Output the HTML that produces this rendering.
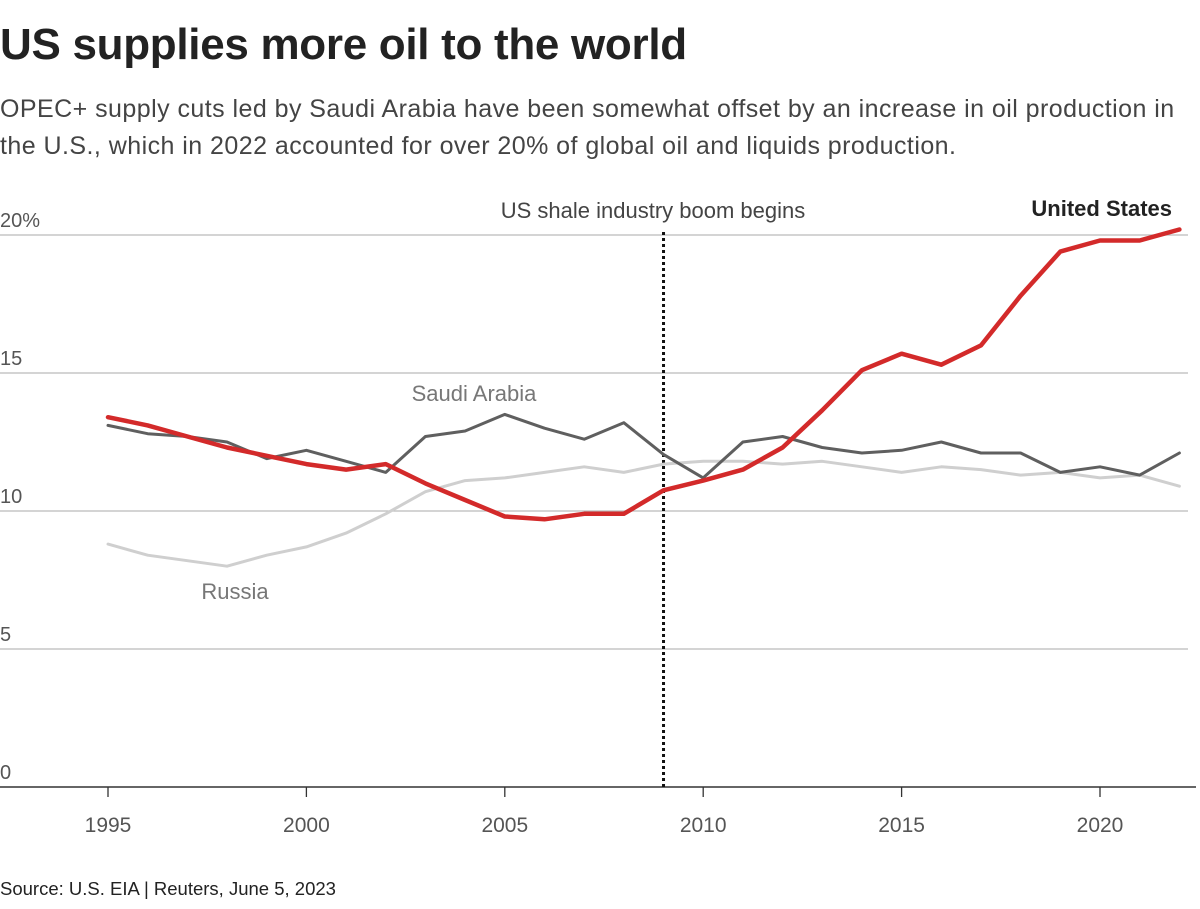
<!DOCTYPE html>
<html><head><meta charset="utf-8"><style>
body{margin:0;width:1200px;height:909px;background:#fff;font-family:"Liberation Sans",sans-serif;overflow:hidden;position:relative}
h1{position:absolute;left:0;top:20px;margin:0;font-size:44px;font-weight:bold;color:#222;letter-spacing:-0.3px}
p.sub{position:absolute;left:0;top:91px;margin:0;font-size:25px;letter-spacing:0.45px;line-height:37px;color:#444;width:1200px;white-space:nowrap}
.src{position:absolute;left:0;top:878px;font-size:18.5px;color:#222}
svg{position:absolute;left:0;top:0}
</style></head><body>
<h1>US supplies more oil to the world</h1>
<p class="sub">OPEC+ supply cuts led by Saudi Arabia have been somewhat offset by an increase in oil production in<br>the U.S., which in 2022 accounted for over 20% of global oil and liquids production.</p>
<svg id="c" width="1200" height="909"></svg>
<div class="src">Source: U.S. EIA | Reuters, June 5, 2023</div>
<script>
const years=[1995,1996,1997,1998,1999,2000,2001,2002,2003,2004,2005,2006,2007,2008,2009,2010,2011,2012,2013,2014,2015,2016,2017,2018,2019,2020,2021,2022];
const usValues=[13.4,13.1,12.7,12.3,12.0,11.7,11.5,11.7,11.0,10.4,9.8,9.7,9.9,9.9,10.75,11.1,11.5,12.3,13.65,15.1,15.7,15.3,16.0,17.8,19.4,19.8,19.8,20.2];
const saudiValues=[13.1,12.8,12.7,12.5,11.9,12.2,11.8,11.4,12.7,12.9,13.5,13.0,12.6,13.2,12.05,11.2,12.5,12.7,12.3,12.1,12.2,12.5,12.1,12.1,11.4,11.6,11.3,12.1];
const russiaValues=[8.8,8.4,8.2,8.0,8.4,8.7,9.2,9.9,10.7,11.1,11.2,11.4,11.6,11.4,11.7,11.8,11.8,11.7,11.8,11.6,11.4,11.6,11.5,11.3,11.4,11.2,11.3,10.9];
const yTicks=[0,5,10,15,20];
const yTickLabels=["0","5","10","15","20%"];
const xTicks=[1995,2000,2005,2010,2015,2020];
const svg=document.getElementById('c');const NS='http://www.w3.org/2000/svg';
const x=v=>108+(v-1995)*(1100-108)/25;
const y=v=>787-v*(787-235)/20;
function mk(t,a){const e=document.createElementNS(NS,t);for(const k in a)e.setAttribute(k,a[k]);svg.appendChild(e);return e;}
yTicks.forEach((t,i)=>{
 if(t>0){const g=mk('line',{x1:0,x2:1188,y1:y(t),y2:y(t),stroke:'#bbb','stroke-width':1.3});
 
 }
 const l=mk('text',{x:0,y:y(t)-8,'font-size':20,fill:'#555'});l.textContent=yTickLabels[i];
 
 
});
const ax=mk('line',{x1:0,x2:1196,y1:787,y2:787,stroke:'#333','stroke-width':1.5});


xTicks.forEach(t=>{
 const tk=mk('line',{x1:x(t),x2:x(t),y1:787,y2:797,stroke:'#333','stroke-width':1.3});
 
 
 const l=mk('text',{x:x(t),y:832,'font-size':21,fill:'#555','text-anchor':'middle'});l.textContent=t;
 
 
});
const vl=mk('line',{x1:x(2009),x2:x(2009),y1:232,y2:787,stroke:'#111','stroke-width':3,'stroke-dasharray':'3,3'});


const vt=mk('text',{x:653,y:218,'font-size':22,fill:'#444','text-anchor':'middle'});vt.textContent='US shale industry boom begins';


function line(vals,col,w,name){const d=vals.map((v,i)=>(i?'L':'M')+x(years[i]).toFixed(1)+','+y(v).toFixed(1)).join('');
 const p=mk('path',{d:d,fill:'none',stroke:col,'stroke-width':w,'stroke-linejoin':'round','stroke-linecap':'round'});
 
 }
line(russiaValues,'#cfcfcf',3,'russia-line');
line(saudiValues,'#5f5f5f',3,'saudi-arabia-line');
line(usValues,'#d32a2a',4.5,'united-states-line');
const t1=mk('text',{x:474,y:401,'font-size':22,fill:'#777','text-anchor':'middle'});t1.textContent='Saudi Arabia';


const t2=mk('text',{x:235,y:599,'font-size':22,fill:'#777','text-anchor':'middle'});t2.textContent='Russia';


const t3=mk('text',{x:1172,y:216,'font-size':22,fill:'#222','font-weight':'bold','text-anchor':'end'});t3.textContent='United States';


</script>
</body></html>
